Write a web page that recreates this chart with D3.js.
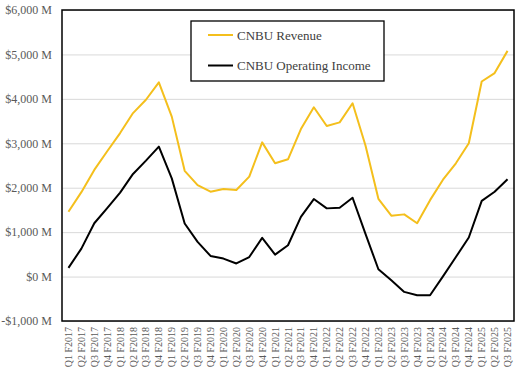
<!DOCTYPE html>
<html>
<head>
<meta charset="utf-8">
<script src="https://cdn.jsdelivr.net/npm/d3@7"></script>
<style>
  body { margin: 0; background: #fff; }
  text { font-family: "Liberation Serif", "DejaVu Serif", serif; }
</style>
</head>
<body>
<div id="chart"></div>
<script>
// quarters, Q1 F2017 .. Q3 F2025
var quarters = [
  "Q1 F2017", "Q2 F2017", "Q3 F2017", "Q4 F2017",
  "Q1 F2018", "Q2 F2018", "Q3 F2018", "Q4 F2018",
  "Q1 F2019", "Q2 F2019", "Q3 F2019", "Q4 F2019",
  "Q1 F2020", "Q2 F2020", "Q3 F2020", "Q4 F2020",
  "Q1 F2021", "Q2 F2021", "Q3 F2021", "Q4 F2021",
  "Q1 F2022", "Q2 F2022", "Q3 F2022", "Q4 F2022",
  "Q1 F2023", "Q2 F2023", "Q3 F2023", "Q4 F2023",
  "Q1 F2024", "Q2 F2024", "Q3 F2024", "Q4 F2024",
  "Q1 F2025", "Q2 F2025", "Q3 F2025"
];

// $M
var revenue = [
  1460, 1900, 2400, 2820,
  3230, 3680, 3980, 4370,
  3600, 2380, 2060, 1910,
  1970, 1950, 2250, 3020,
  2550, 2640, 3320, 3810,
  3390, 3470, 3900, 2950,
  1750, 1370, 1400, 1200,
  1720, 2180, 2550, 3000,
  4390, 4580, 5080
];

var opIncome = [
  195, 630, 1200, 1540,
  1890, 2310, 2610, 2925,
  2210, 1195, 780, 465,
  405, 295, 440, 870,
  495, 705, 1345, 1745,
  1535, 1550, 1775, 960,
  165, -85, -345, -420,
  -420, 5, 440, 880,
  1705, 1910, 2190
];

var yTicks = [-1000, 0, 1000, 2000, 3000, 4000, 5000, 6000];

var seriesNames = ["CNBU Revenue", "CNBU Operating Income"];
var seriesColors = ["#f4bf1c", "#000000"];

var width = 522;
var height = 376;

let margin = {
  top: 10,
  right: 8,
  bottom: 55,
  left: 62
}

var innerW = width - margin.left - margin.right;
var innerH = height - margin.top - margin.bottom;

let svg = d3.select("#chart")
  .append("svg")
  .attr("width", width)
  .attr("height", height)
  .append("g")
  .attr("transform", `translate(${margin.left},${margin.top})`);

var xScale = d3.scaleBand().domain(quarters).range([0, innerW]);
var yScale = d3.scaleLinear().domain([-1000, 6000]).range([innerH, 0]);

var fmt = d3.format(",");
function money(d) {
  return (d < 0 ? "-$" : "$") + fmt(Math.abs(d)) + " M";
}

// gridlines
svg.append("g")
  .attr("class", "grid")
  .call(d3.axisLeft(yScale).tickValues(yTicks).tickSize(-innerW).tickFormat(""))
  .call(g => g.select(".domain").remove())
  .call(g => g.selectAll("line").attr("stroke", "#d9d9d9").attr("stroke-width", 1));

// y axis labels
svg.append("g")
  .attr("class", "y axis")
  .call(d3.axisLeft(yScale).tickValues(yTicks).tickSize(0).tickPadding(10).tickFormat(money))
  .call(g => g.select(".domain").remove())
  .call(g => g.selectAll("text")
    .style("font-family", "'Liberation Serif', serif")
    .style("font-size", "12px")
    .attr("fill", "#595959"));

// x axis labels (rotated)
svg.append("g")
  .attr("class", "x axis")
  .attr("transform", `translate(0,${innerH})`)
  .call(d3.axisBottom(xScale).tickSize(0))
  .call(g => g.select(".domain").remove())
  .call(g => g.selectAll("text")
    .style("font-family", "'Liberation Serif', serif")
    .style("font-size", "10px")
    .attr("fill", "#595959")
    .attr("text-anchor", "end")
    .attr("dy", "0.35em")
    .attr("transform", "translate(0,6) rotate(-90)")
    .attr("x", 0)
    .attr("y", 0));

// lines
var line = d3.line()
  .x((d, i) => xScale(quarters[i]) + xScale.bandwidth() / 2)
  .y(d => yScale(d));

svg.append("path")
  .datum(revenue)
  .attr("fill", "none")
  .attr("stroke", seriesColors[0])
  .attr("stroke-width", 2)
  .attr("stroke-linejoin", "round")
  .attr("d", line);

svg.append("path")
  .datum(opIncome)
  .attr("fill", "none")
  .attr("stroke", seriesColors[1])
  .attr("stroke-width", 2)
  .attr("stroke-linejoin", "round")
  .attr("d", line);

// plot border
svg.append("rect")
  .attr("x", 0)
  .attr("y", 0)
  .attr("width", innerW)
  .attr("height", innerH)
  .attr("fill", "none")
  .attr("stroke", "#000")
  .attr("stroke-width", 1.5);

// legend
var legend = svg.append("g")
  .attr("transform", "translate(129,11)");

legend.append("rect")
  .attr("x", 0)
  .attr("y", 0)
  .attr("width", 193)
  .attr("height", 60)
  .attr("fill", "#fff")
  .attr("stroke", "#000")
  .attr("stroke-width", 1.3);

seriesNames.forEach((name, i) => {
  var yy = 14 + i * 30.5;
  legend.append("line")
    .attr("x1", 17)
    .attr("x2", 42)
    .attr("y1", yy)
    .attr("y2", yy)
    .attr("stroke", seriesColors[i])
    .attr("stroke-width", 2);
  legend.append("text")
    .attr("x", 46)
    .attr("y", yy)
    .attr("dy", "0.35em")
    .style("font-size", "13px")
    .attr("fill", "#404040")
    .text(name);
});
</script>
</body>
</html>
